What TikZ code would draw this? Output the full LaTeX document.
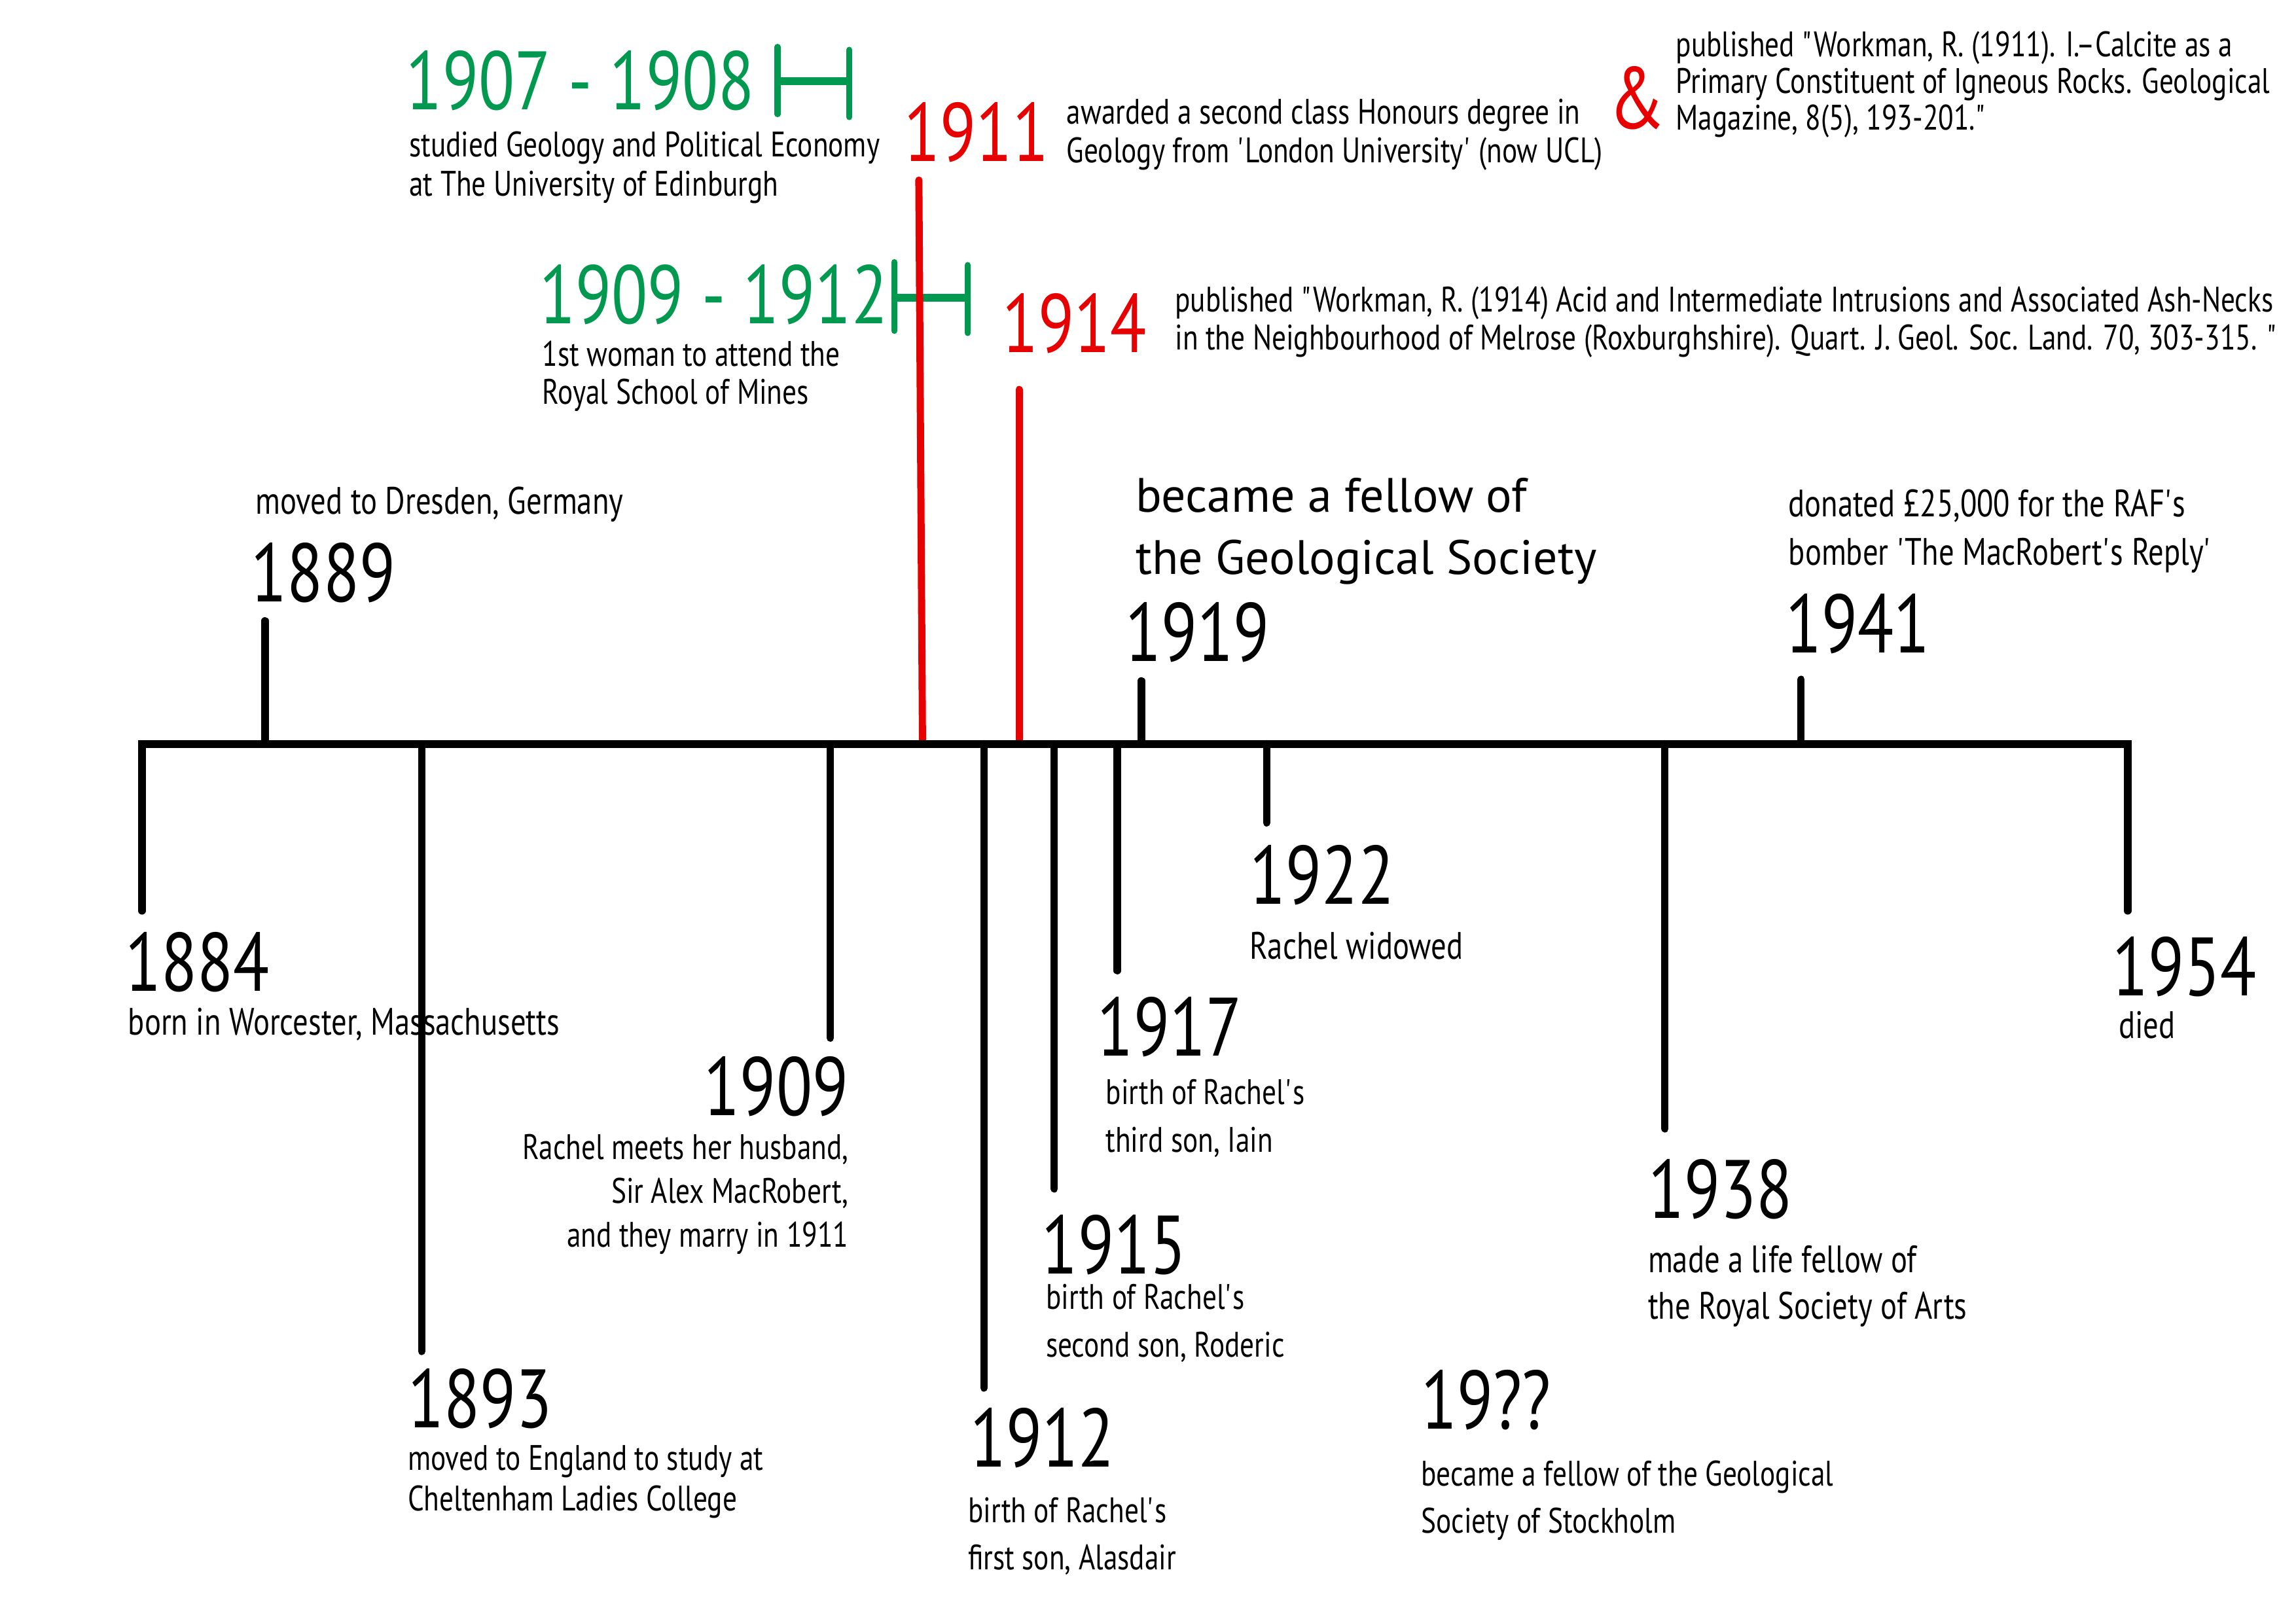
\documentclass[tikz,border=0pt]{standalone}
\usepackage{fontspec}
\setmainfont{PT Sans}[FakeStretch=0.8]
\newfontfamily\widefont{PT Sans}
\usepackage{xcolor}
\usepackage{tikz}
\definecolor{rmgreen}{RGB}{0,153,79}
\definecolor{rmred}{RGB}{230,0,0}
\newcommand{\apos}{\textquotesingle}
\newcommand{\dq}{\textquotedbl}

\begin{document}
\begin{tikzpicture}[x=0.6365pt,y=-0.6365pt,line width=3.2pt,
    year/.style={font=\fontsize{36}{36}\selectfont,inner sep=0pt,anchor=base west},
    note/.style={font=\fontsize{15.4}{#1}\selectfont,inner sep=0pt,anchor=base west,align=left},
    note/.default=17,
    bignote/.style={note,font=\fontsize{16.6}{#1}\selectfont},
    bignote/.default=20,
    tick/.style={line width=3.2pt,line cap=round},
    span/.style={rmgreen,line width=2.6pt,line cap=round}]
    \useasboundingbox (0,0) rectangle (1568,1108.5);
    \coordinate (l) at (97,508);
    \coordinate (r) at (1453,508);
    \coordinate (a1884) at (97,622);
    \coordinate (a1954) at (1453,622);
    \coordinate (b1889) at (181,508);
    \coordinate (e1889) at (181,424);
    \coordinate (b1893) at (288,508);
    \coordinate (e1893) at (288,923);
    \coordinate (b1909) at (567,508);
    \coordinate (e1909) at (567,709);
    \coordinate (b1911) at (630,508);
    \coordinate (e1911) at (627.5,123);
    \coordinate (b1912) at (672,508);
    \coordinate (e1912) at (672,948);
    \coordinate (b1914) at (696,508);
    \coordinate (e1914) at (696,266);
    \coordinate (b1915) at (720,508);
    \coordinate (e1915) at (720,812);
    \coordinate (b1917) at (763,508);
    \coordinate (e1917) at (763,663);
    \coordinate (b1919) at (779.5,508);
    \coordinate (e1919) at (779.5,465);
    \coordinate (b1922) at (865,508);
    \coordinate (e1922) at (865,562);
    \coordinate (b1938) at (1137,508);
    \coordinate (e1938) at (1137,771);
    \coordinate (b1941) at (1230,508);
    \coordinate (e1941) at (1230,464);
    \draw[span] (531,32) -- (531,78);
    \draw[span] (580,34) -- (580,80);
    \draw[span,line width=3.5pt,line cap=butt] (531,55.5) -- (580,55.5);
    \draw[span] (610.7,179) -- (610.7,226);
    \draw[span] (661,181) -- (661,227.5);
    \draw[span,line width=3.5pt,line cap=butt] (610.7,203.4) -- (661,203.4);
    \draw[tick] (b1889) -- (e1889);
    \draw[tick] (b1893) -- (e1893);
    \draw[tick] (b1909) -- (e1909);
    \draw[tick] (b1912) -- (e1912);
    \draw[tick] (b1915) -- (e1915);
    \draw[tick] (b1917) -- (e1917);
    \draw[tick] (b1919) -- (e1919);
    \draw[tick] (b1922) -- (e1922);
    \draw[tick] (b1938) -- (e1938);
    \draw[tick] (b1941) -- (e1941);
    \draw[tick,rmred,line width=3.1pt] (b1911) -- (e1911);
    \draw[tick,rmred,line width=3.1pt] (b1914) -- (e1914);
    \draw[line width=3.4pt,line cap=round,line join=miter] (a1884) -- (l) -- (r) -- (a1954);
    \node[year,rmgreen] (g1907) at (275,75) {1907 - 1908};
    \node[note=17.2] (n1907) at (277,134) {studied Geology and Political Economy\\at The University of Edinburgh};
    \node[year,rmred] (r1911) at (615,110) {1911};
    \node[note=16.8] (n1911) at (726,111) {awarded a second class Honours degree in\\Geology from \apos London University\apos{} (now UCL)};
    \node[year,rmred,font=\fontsize{38}{38}\selectfont] (amp) at (1096,88) {\&};
    \node[note=15.9] (p1911) at (1142,88.6) {published \dq Workman, R. (1911). I.–Calcite as a\\Primary Constituent of Igneous Rocks. Geological\\Magazine, 8(5), 193-201.\dq};
    \node[year,rmgreen] (g1909) at (366,221) {1909 - 1912};
    \node[note=16.5] (n1912) at (368,276) {1st woman to attend the\\Royal School of Mines};
    \node[year,rmred] (r1914) at (682,240.5) {1914};
    \node[note=16.5] (p1914) at (800,239) {published \dq Workman, R. (1914) Acid and Intermediate Intrusions and Associated Ash-Necks\\in the Neighbourhood of Melrose (Roxburghshire). Quart. J. Geol. Soc. Land. 70, 303-315. \dq};
    \node[bignote] (n1889) at (172,351) {moved to Dresden, Germany};
    \node[year] (y1889) at (169,411) {1889};
    \node[note,font=\widefont\fontsize{21}{27}\selectfont] (n1919) at (773,392) {became a fellow of\\the Geological Society};
    \node[year] (y1919) at (766,451.5) {1919};
    \node[bignote=21] (n1941) at (1219,386) {donated £25,000 for the RAF\apos s\\bomber \apos The MacRobert\apos s Reply\apos};
    \node[year] (y1941) at (1217,445.7) {1941};
    \node[year] (y1884) at (83,677) {1884};
    \node[bignote] (n1884) at (85,707) {born in Worcester, Massachusetts};
    \node[year] (y1893) at (276,975) {1893};
    \node[note=17.8] (n1893) at (276,1032) {moved to England to study at\\Cheltenham Ladies College};
    \node[year,anchor=base east] (y1909) at (582,762) {1909};
    \node[note=19,anchor=base east,align=right] (n1909) at (582,851.6) {Rachel meets her husband,\\Sir Alex MacRobert,\\and they marry in 1911};
    \node[year] (y1912) at (660,1002) {1912};
    \node[note=20.4] (n1912b) at (658.6,1072) {birth of Rachel\apos s\\first son, Alasdair};
    \node[year] (y1915) at (709,870) {1915};
    \node[note=20.8] (n1915) at (711.8,927) {birth of Rachel\apos s\\second son, Roderic};
    \node[year] (y1917) at (747,721) {1917};
    \node[note=20.7] (n1917) at (752.7,787) {birth of Rachel\apos s\\third son, Iain};
    \node[year] (y1922) at (851,617.6) {1922};
    \node[bignote] (n1922) at (851,655) {Rachel widowed};
    \node[year] (y1938) at (1123,832) {1938};
    \node[bignote=20.4] (n1938) at (1123,901) {made a life fellow of\\the Royal Society of Arts};
    \node[year] (y19qq) at (968,976) {19??};
    \node[note=20.4] (n19qq) at (968,1047) {became a fellow of the Geological\\Society of Stockholm};
    \node[year] (y1954) at (1440,680) {1954};
    \node[bignote] (n1954) at (1444.5,709) {died};
\end{tikzpicture}
\end{document}
